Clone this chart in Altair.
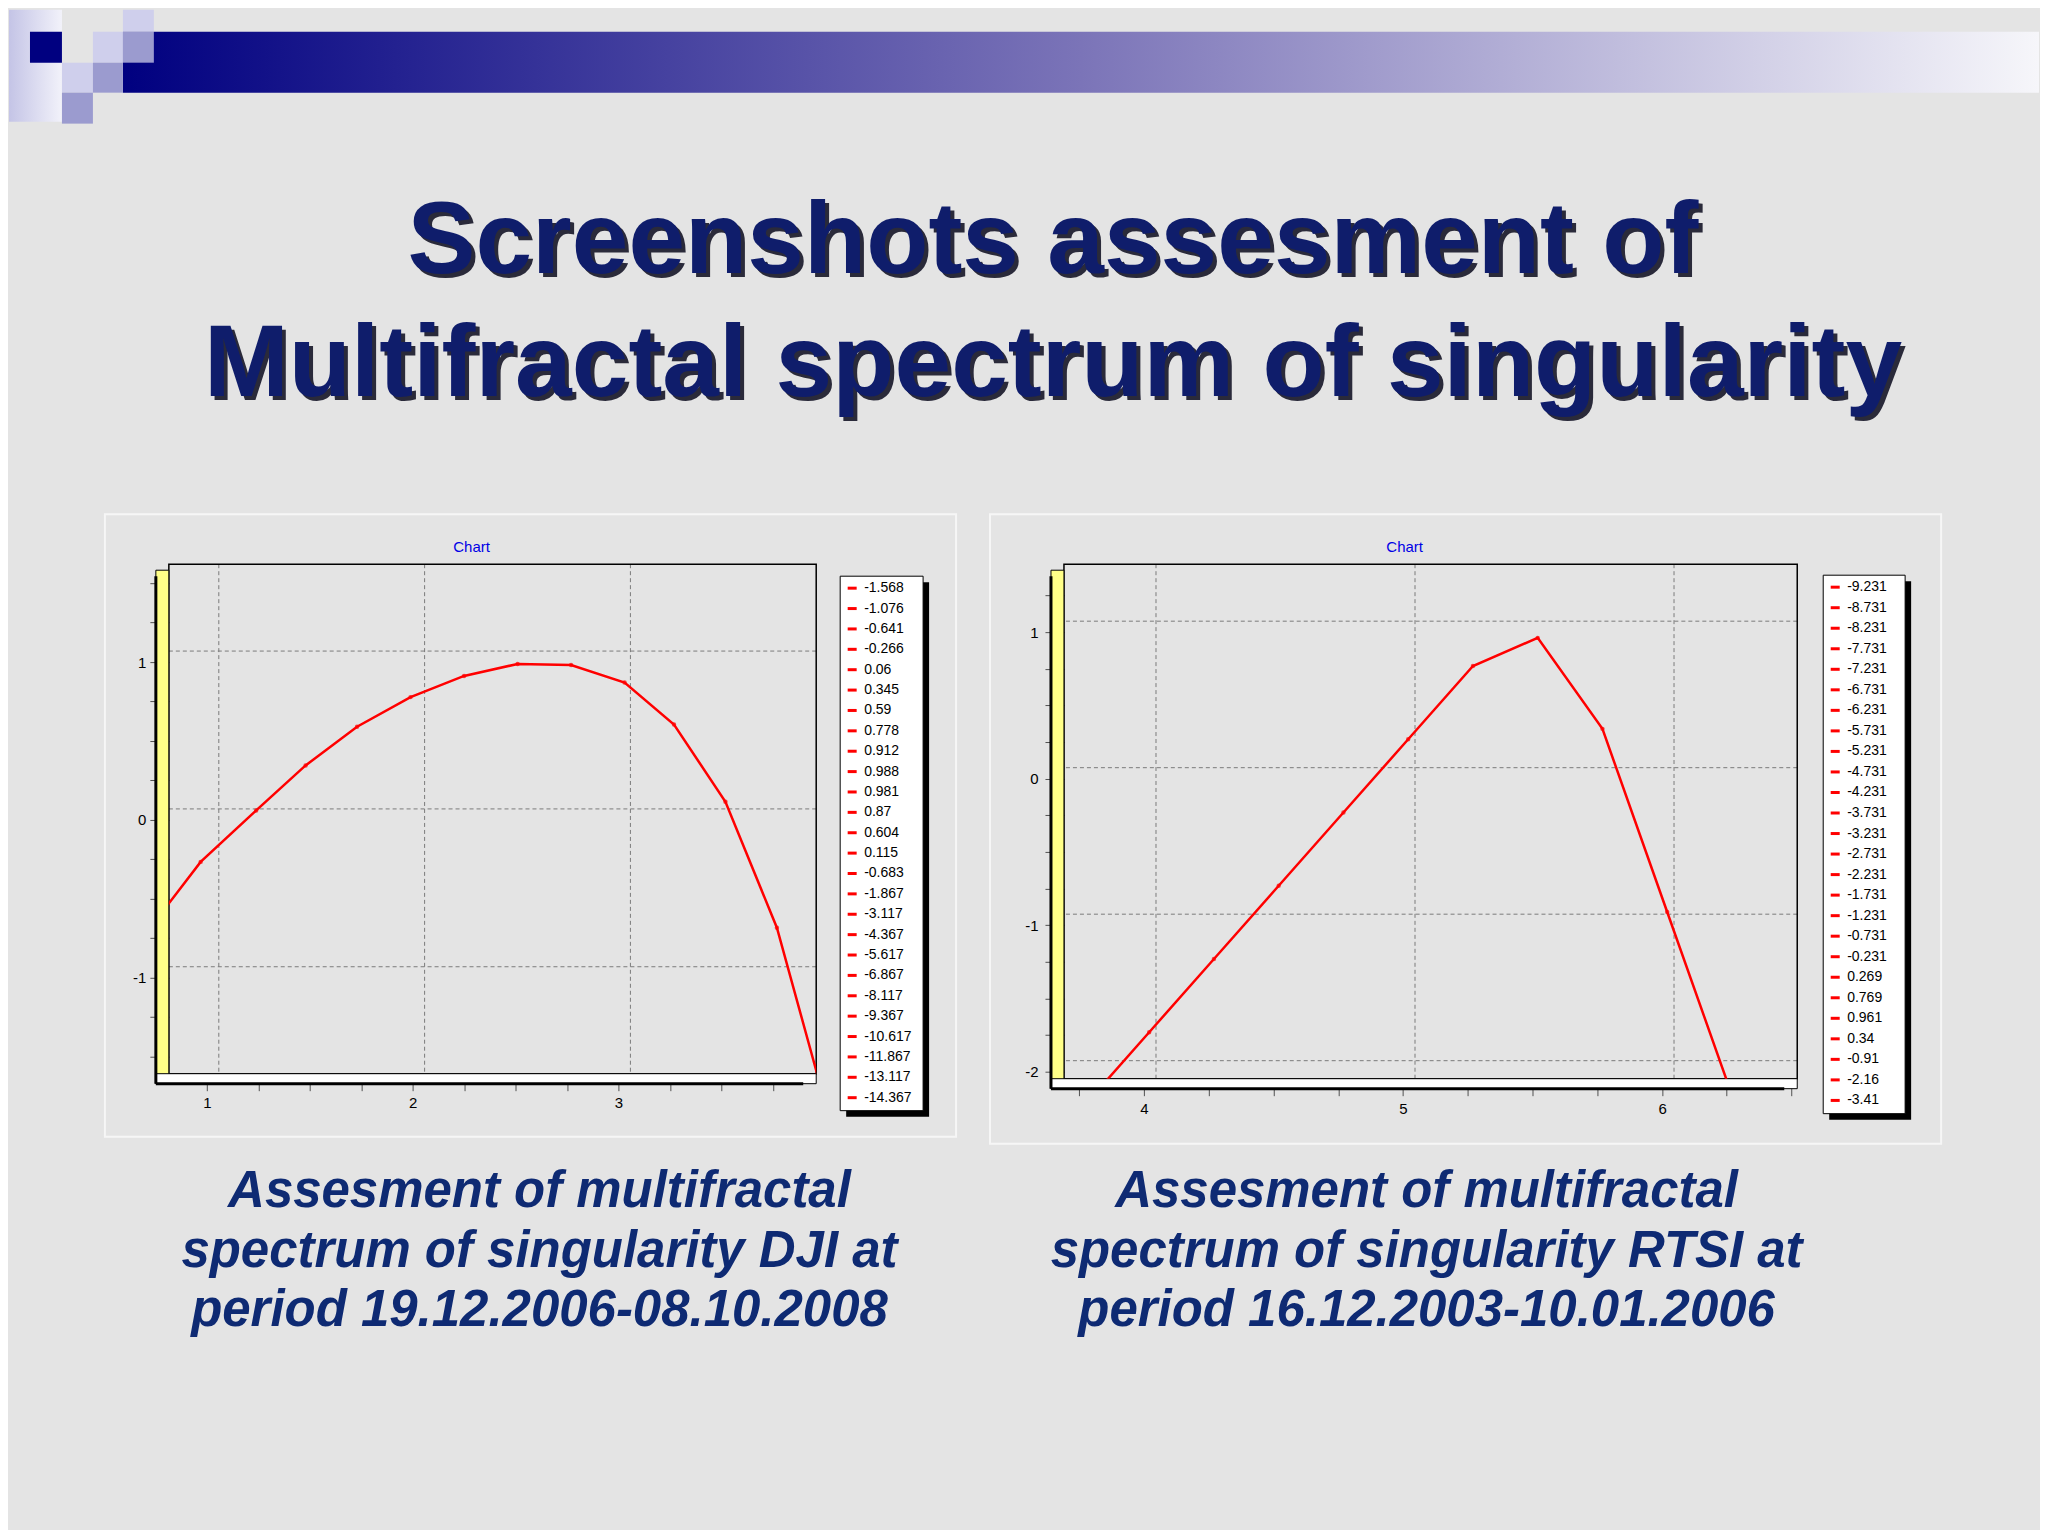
import altair as alt
import pandas as pd

# ---------------- data ----------------
TITLE_LINES = ["Screenshots assesment of", "Multifractal spectrum of singularity"]

DJI_ALPHA = [0.22, 0.47, 0.75, 0.97, 1.24, 1.48, 1.73, 1.99, 2.25, 2.51, 2.77, 3.03, 3.27,
             3.52, 3.77, 4.02, 4.27, 4.52, 4.77, 5.02, 5.27, 5.52, 5.77, 6.02, 6.27, 6.52]
DJI_F = [-1.568, -1.076, -0.641, -0.266, 0.06, 0.345, 0.59, 0.778, 0.912, 0.988, 0.981, 0.87,
         0.604, 0.115, -0.683, -1.867, -3.117, -4.367, -5.617, -6.867, -8.117, -9.367,
         -10.617, -11.867, -13.117, -14.367]
DJI_LABELS = ["-1.568", "-1.076", "-0.641", "-0.266", "0.06", "0.345", "0.59", "0.778", "0.912",
              "0.988", "0.981", "0.87", "0.604", "0.115", "-0.683", "-1.867", "-3.117", "-4.367",
              "-5.617", "-6.867", "-8.117", "-9.367", "-10.617", "-11.867", "-13.117", "-14.367"]
DJI_XTICKS = [1.0, 1.25, 1.5, 1.75, 2.0, 2.25, 2.5, 2.75, 3.0, 3.25, 3.5, 3.75]
DJI_YTICKS = [-1.5, -1.25, -1.0, -0.75, -0.5, -0.25, 0.0, 0.25, 0.5, 0.75, 1.0, 1.25, 1.5]
DJI_XGRID = [1, 2, 3]
DJI_YGRID = [-1, 0, 1]
DJI_CAPTION = ["Assesment of multifractal", "spectrum of singularity DJI at",
               "period 19.12.2006-08.10.2008"]

RTSI_ALPHA = [0.27, 0.52, 0.77, 1.02, 1.27, 1.52, 1.77, 2.02, 2.27, 2.52, 2.77, 3.02, 3.27,
              3.52, 3.77, 4.02, 4.27, 4.52, 4.77, 5.02, 5.27, 5.52, 5.77, 6.02, 6.27, 6.52]
RTSI_F = [-9.231, -8.731, -8.231, -7.731, -7.231, -6.731, -6.231, -5.731, -5.231, -4.731,
          -4.231, -3.731, -3.231, -2.731, -2.231, -1.731, -1.231, -0.731, -0.231, 0.269,
          0.769, 0.961, 0.34, -0.91, -2.16, -3.41]
RTSI_LABELS = ["-9.231", "-8.731", "-8.231", "-7.731", "-7.231", "-6.731", "-6.231", "-5.731",
               "-5.231", "-4.731", "-4.231", "-3.731", "-3.231", "-2.731", "-2.231", "-1.731",
               "-1.231", "-0.731", "-0.231", "0.269", "0.769", "0.961", "0.34", "-0.91",
               "-2.16", "-3.41"]
RTSI_XTICKS = [3.75, 4.0, 4.25, 4.5, 4.75, 5.0, 5.25, 5.5, 5.75, 6.0, 6.25, 6.5]
RTSI_YTICKS = [-2.0, -1.75, -1.5, -1.25, -1.0, -0.75, -0.5, -0.25, 0.0, 0.25, 0.5, 0.75, 1.0, 1.25]
RTSI_XGRID = [4, 5, 6]
RTSI_YGRID = [-2, -1, 0, 1]
RTSI_CAPTION = ["Assesment of multifractal", "spectrum of singularity RTSI at",
                "period 16.12.2003-10.01.2006"]

# ---------------- styling ----------------
BG = "#e4e4e4"
FONT = "Liberation Sans"
NAVY = "#0f1d6b"
CAP = "#0e2a73"
LIGHT = "#cfcfec"
MED = "#9b9bcf"
ONE = pd.DataFrame({"k": [0]})


def vrect(x, x2, y, y2, **kw):
    return alt.Chart(ONE).mark_rect(**kw).encode(
        x=alt.value(x), x2=alt.value(x2), y=alt.value(y), y2=alt.value(y2))


def vrule(x, x2, y, y2, **kw):
    return alt.Chart(ONE).mark_rule(**kw).encode(
        x=alt.value(x), x2=alt.value(x2), y=alt.value(y), y2=alt.value(y2))


def vtext(x, y, text, **kw):
    return alt.Chart(ONE).mark_text(**kw).encode(
        x=alt.value(x), y=alt.value(y), text=alt.value(text))


def slide_header():
    """Slide decoration and title, positioned relative to the left plot's origin."""
    bar_grad = alt.Gradient(gradient="linear", x1=0, x2=1, y1=0, y2=0,
                            stops=[alt.GradientStop(color="#000080", offset=0),
                                   alt.GradientStop(color="#7b74b8", offset=0.5),
                                   alt.GradientStop(color="#f6f6fa", offset=1)])
    col_grad = alt.Gradient(gradient="linear", x1=0, x2=1, y1=0, y2=0,
                            stops=[alt.GradientStop(color="#c4c4e6", offset=0),
                                   alt.GradientStop(color="#f2f2fa", offset=1)])
    return [
        vrect(-160, -107, -555, -443, fill=col_grad),
        vrect(-46, 1872, -533, -472, fill=bar_grad),
        vrect(-139, -107, -533, -502, fill="#000080"),
        vrect(-76, -46, -533, -502, fill=LIGHT),
        vrect(-107, -76, -502, -472, fill=LIGHT),
        vrect(-46, -15, -555, -533, fill=LIGHT),
        vrect(-46, -15, -533, -502, fill=MED),
        vrect(-76, -46, -502, -472, fill=MED),
        vrect(-107, -76, -472, -441, fill=MED),
        vtext(889, -287, TITLE_LINES, font=FONT, fontSize=102, fontWeight="bold",
              color="#2a2a3a", align="center", baseline="alphabetic", lineHeight=123),
        vtext(885, -291, TITLE_LINES, font=FONT, fontSize=102, fontWeight="bold",
              color=NAVY, align="center", baseline="alphabetic", lineHeight=123),
        # filler that sets the bottom of the page
        vrect(-160, -156, 0, 965, fill=BG),
    ]


def panel(alpha, f, labels, xdom, ydom, W, H, xticks, yticks, xgrid, ygrid, caption, g,
          extra=()):
    df = pd.DataFrame({"alpha": alpha, "f": f, "label": labels})
    xs = alt.Scale(domain=xdom, nice=False, zero=False)
    ys = alt.Scale(domain=ydom, nice=False, zero=False)
    lab = "datum.value % 1 === 0 ? '' + datum.value : ''"
    xaxis = alt.Axis(values=xticks, labelExpr=lab, title=None, grid=False, domain=False,
                     tickSize=17, tickColor="#505050", labelPadding=g["xlp"], labelFontSize=15,
                     labelColor="black", labelFont=FONT, labelAngle=0, labelOverlap=False,
                     labelFlush=False)
    yaxis = alt.Axis(values=yticks, labelExpr=lab, title=None, grid=False, domain=False,
                     tickSize=19, tickColor="#505050", labelPadding=g["ylp"], labelFontSize=15,
                     labelColor="black", labelFont=FONT, labelOverlap=False, labelFlush=False)

    layers = list(extra) + [
        # screenshot frame
        vrect(g["px"], g["px2"], -50, g["py2"], fillOpacity=0, stroke="#f6f6f6", strokeWidth=2),
        # dashed grid on the back wall
        alt.Chart(pd.DataFrame({"gx": xgrid})).mark_rule(
            color="#7a7a7a", strokeDash=[4, 3], strokeWidth=1, xOffset=12).encode(
            x=alt.X("gx:Q", scale=xs, axis=xaxis)),
        alt.Chart(pd.DataFrame({"gy": ygrid})).mark_rule(
            color="#7a7a7a", strokeDash=[4, 3], strokeWidth=1, yOffset=-11).encode(
            y=alt.Y("gy:Q", scale=ys, axis=yaxis)),
        # back box
        vrect(0, W, 0, H, fillOpacity=0, stroke="black", strokeWidth=1.5),
        # 3D wall and floor
        vrect(-13, 0, 6, H + 10, fill="#ffff88", stroke="black", strokeWidth=1),
        vrect(-13, W, H, H + 10, fill="white", stroke="black", strokeWidth=1),
        vrule(-13, -13, 12, H + 10, color="black", strokeWidth=3),
        vrule(-13, W - 13, H + 10, H + 10, color="black", strokeWidth=3),
        # legend box with shadow
        vrect(g["lx"] + 6, g["lx2"] + 6, g["ly"] + 6, g["ly2"] + 6, fill="black"),
        vrect(g["lx"], g["lx2"], g["ly"], g["ly2"], fill="white", stroke="black", strokeWidth=1),
        # the spectrum
        alt.Chart(df).mark_line(color="#ff0000", strokeWidth=2.5, clip=True).encode(
            x=alt.X("alpha:Q", scale=xs, axis=xaxis),
            y=alt.Y("f:Q", scale=ys, axis=yaxis)),
        alt.Chart(df).mark_point(size=6, clip=True).encode(
            x=alt.X("alpha:Q", scale=xs, axis=xaxis),
            y=alt.Y("f:Q", scale=ys, axis=yaxis),
            color=alt.Color("label:N",
                            scale=alt.Scale(domain=labels, range=["#ff0000"] * len(labels)),
                            legend=alt.Legend(title=None, orient="none", legendX=g["lx"],
                                              legendY=g["ly"], direction="vertical",
                                              symbolType="stroke", symbolSize=81,
                                              symbolStrokeWidth=3, symbolOpacity=1,
                                              labelFontSize=14, labelFont=FONT,
                                              labelColor="black", labelOffset=5, padding=5,
                                              rowPadding=g["rp"], symbolLimit=40))),
        vtext(g["cx"], -17, "Chart", font=FONT, fontSize=15, color="#0000e6",
              align="center", baseline="middle"),
        vtext(g["capx"], 643, caption, font=FONT, fontSize=51, fontWeight="bold",
              fontStyle="italic", color=CAP, align="center", baseline="alphabetic",
              lineHeight=60),
    ]
    return alt.layer(*layers).properties(width=W, height=H)


left = panel(DJI_ALPHA, DJI_F, DJI_LABELS, [0.8155, 3.961], [-1.608, 1.62], 648, 510,
             DJI_XTICKS, DJI_YTICKS, DJI_XGRID, DJI_YGRID, DJI_CAPTION,
             dict(xlp=5, ylp=4, px=-64, px2=788, py2=573, lx=672, lx2=755,
                  ly=12, ly2=547, rp=6.4, cx=303, capx=371),
             extra=slide_header())

right = panel(RTSI_ALPHA, RTSI_F, RTSI_LABELS, [3.691, 6.522], [-2.048, 1.464], 734, 515,
              RTSI_XTICKS, RTSI_YTICKS, RTSI_XGRID, RTSI_YGRID, RTSI_CAPTION,
              dict(xlp=6, ylp=7, px=-74, px2=878, py2=580, lx=760, lx2=842,
                   ly=11, ly2=550, rp=6.55, cx=341, capx=363))

chart = alt.hconcat(left, right, spacing=248, bounds="flush").resolve_scale(
    color="independent").resolve_legend(color="independent").properties(
    background=BG, padding=0).configure_view(stroke="transparent")

chart.save("out.html", embed_options={"renderer": "svg", "actions": False})
